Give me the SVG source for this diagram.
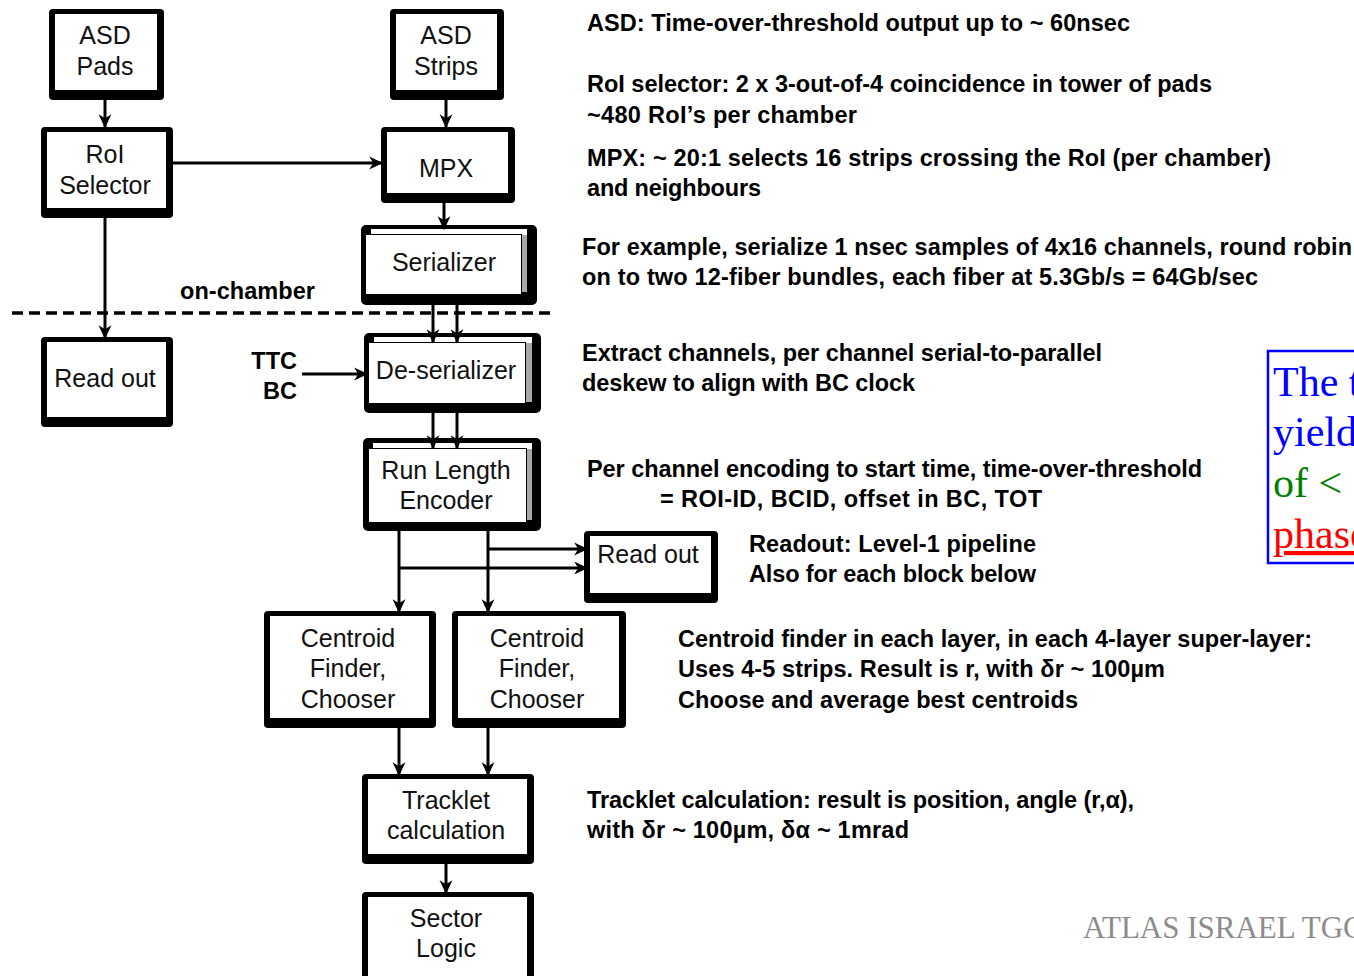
<svg xmlns="http://www.w3.org/2000/svg" width="1354" height="976" viewBox="0 0 1354 976">
  <defs>
    <style>
      .frame { fill: #000; }
      .face { fill: #fff; }
      .page { fill: #fff; stroke: #000; stroke-width: 1; }
      .edge { fill: #a8a8a8; }
      .lbl { font-family: "Liberation Sans", Arial, sans-serif; font-size: 25px; fill: #111; text-anchor: middle; }
      .note { font-family: "Liberation Sans", Arial, sans-serif; font-size: 23.5px; font-weight: bold; fill: #000; }
      .wire { fill: none; stroke: #000; stroke-width: 3; }
      .arrow { marker-end: url(#ah); }
      .serif { font-family: "Liberation Serif", "Times New Roman", serif; font-size: 42px; }
    </style>
    <marker id="ah" viewBox="0 0 12 12" refX="11" refY="6" markerWidth="14" markerHeight="14" markerUnits="userSpaceOnUse" orient="auto">
      <path d="M0,0.5 L12,6 L0,11.5 L3.5,6 z" fill="#000"/>
    </marker>
  </defs>

  <rect width="1354" height="976" fill="#fff"/>

  <!-- single-frame blocks: black frame with heavier bottom/right, white face -->
  <g id="asd-pads">
    <rect class="frame" x="49" y="9" width="115" height="91" rx="4"/>
    <rect class="face" x="55" y="14" width="102" height="76"/>
    <text class="lbl" x="105" y="44">ASD</text>
    <text class="lbl" x="105" y="75">Pads</text>
  </g>
  <g id="asd-strips">
    <rect class="frame" x="390" y="9" width="114" height="91" rx="4"/>
    <rect class="face" x="396" y="14" width="101" height="76"/>
    <text class="lbl" x="446" y="44">ASD</text>
    <text class="lbl" x="446" y="75">Strips</text>
  </g>
  <g id="roi-selector">
    <rect class="frame" x="41" y="127" width="132" height="91" rx="4"/>
    <rect class="face" x="47" y="132" width="119" height="76"/>
    <text class="lbl" x="105" y="163">RoI</text>
    <text class="lbl" x="105" y="194">Selector</text>
  </g>
  <g id="mpx">
    <rect class="frame" x="381" y="127" width="134" height="76" rx="4"/>
    <rect class="face" x="387" y="132" width="121" height="61"/>
    <text class="lbl" x="446" y="177">MPX</text>
  </g>

  <!-- stacked-page blocks -->
  <g id="serializer">
    <rect class="frame" x="361" y="225" width="176" height="80" rx="5"/>
    <rect class="face" x="371" y="229" width="156" height="63"/>
    <rect class="edge" x="522" y="235" width="5" height="57"/>
    <rect class="page" x="365.5" y="234.5" width="156" height="60"/>
    <text class="lbl" x="444" y="271">Serializer</text>
  </g>

  <text class="note" x="180" y="299" textLength="135">on-chamber</text>
  <text class="note" x="297" y="369" text-anchor="end">TTC</text>
  <text class="note" x="297" y="399" text-anchor="end">BC</text>

  <g id="readout-chamber">
    <rect class="frame" x="41" y="337" width="132" height="90" rx="4"/>
    <rect class="face" x="47" y="342" width="119" height="75"/>
    <text class="lbl" x="105" y="387">Read out</text>
  </g>

  <g id="deserializer">
    <rect class="frame" x="364" y="333" width="177" height="80" rx="5"/>
    <rect class="face" x="374" y="337" width="158" height="65"/>
    <rect class="edge" x="526" y="343" width="6" height="59"/>
    <rect class="page" x="368.5" y="342.5" width="157" height="61"/>
    <text class="lbl" x="446" y="379">De-serializer</text>
  </g>

  <g id="run-length-encoder">
    <rect class="frame" x="363" y="438" width="178" height="93" rx="5"/>
    <rect class="face" x="373" y="443" width="159" height="77"/>
    <rect class="edge" x="527" y="449" width="5" height="71"/>
    <rect class="page" x="368.5" y="448.5" width="158" height="74"/>
    <text class="lbl" x="446" y="479">Run Length</text>
    <text class="lbl" x="446" y="509">Encoder</text>
  </g>

  <g id="readout-pipeline">
    <rect class="frame" x="584" y="531" width="134" height="72" rx="4"/>
    <rect class="face" x="590" y="536" width="121" height="57"/>
    <text class="lbl" x="648" y="563">Read out</text>
  </g>

  <g id="centroid-1">
    <rect class="frame" x="264" y="611" width="172" height="117" rx="4"/>
    <rect class="face" x="270" y="616" width="159" height="102"/>
    <text class="lbl" x="348" y="647">Centroid</text>
    <text class="lbl" x="348" y="677">Finder,</text>
    <text class="lbl" x="348" y="708">Chooser</text>
  </g>
  <g id="centroid-2">
    <rect class="frame" x="452" y="611" width="174" height="117" rx="4"/>
    <rect class="face" x="458" y="616" width="161" height="102"/>
    <text class="lbl" x="537" y="647">Centroid</text>
    <text class="lbl" x="537" y="677">Finder,</text>
    <text class="lbl" x="537" y="708">Chooser</text>
  </g>

  <g id="tracklet">
    <rect class="frame" x="362" y="774" width="172" height="90" rx="4"/>
    <rect class="face" x="368" y="779" width="159" height="75"/>
    <text class="lbl" x="446" y="809">Tracklet</text>
    <text class="lbl" x="446" y="839">calculation</text>
  </g>
  <g id="sector-logic">
    <rect class="frame" x="362" y="892" width="172" height="92" rx="4"/>
    <rect class="face" x="368" y="897" width="159" height="90"/>
    <text class="lbl" x="446" y="927">Sector</text>
    <text class="lbl" x="446" y="957">Logic</text>
  </g>

  <!-- on-chamber boundary -->
  <line x1="12" y1="313" x2="552" y2="313" stroke="#000" stroke-width="3.5" stroke-dasharray="11,6"/>

  <g id="connectors">
    <path class="wire arrow" d="M105,100 V127"/>
    <path class="wire arrow" d="M446,100 V127"/>
    <path class="wire arrow" d="M173,163 H382"/>
    <path class="wire arrow" d="M105,218 V338"/>
    <path class="wire arrow" d="M444,203 V229"/>
    <path class="wire arrow" d="M433,305 V342"/>
    <path class="wire arrow" d="M457,305 V342"/>
    <path class="wire arrow" d="M433,413 V448"/>
    <path class="wire arrow" d="M457,413 V448"/>
    <path class="wire arrow" d="M302,374 H367"/>
    <path class="wire arrow" d="M399,531 V612"/>
    <path class="wire arrow" d="M488,531 V612"/>
    <path class="wire arrow" d="M488,549 H587"/>
    <path class="wire arrow" d="M399,568 H587"/>
    <path class="wire arrow" d="M399,728 V775"/>
    <path class="wire arrow" d="M488,728 V775"/>
    <path class="wire arrow" d="M446,864 V893"/>
  </g>

  <!-- block descriptions -->
  <g id="notes">
    <text class="note" x="587" y="31" textLength="543">ASD: Time-over-threshold output up to ~ 60nsec</text>
    <text class="note" x="587" y="92" textLength="625">RoI selector: 2 x 3-out-of-4 coincidence in tower of pads</text>
    <text class="note" x="587" y="123" textLength="270">~480 RoI’s per chamber</text>
    <text class="note" x="587" y="166" textLength="684">MPX: ~ 20:1 selects 16 strips crossing the RoI (per chamber)</text>
    <text class="note" x="587" y="196" textLength="174">and neighbours</text>
    <text class="note" x="582" y="255" textLength="770">For example, serialize 1 nsec samples of 4x16 channels, round robin</text>
    <text class="note" x="582" y="285" textLength="676">on to two 12-fiber bundles, each fiber at 5.3Gb/s = 64Gb/sec</text>
    <text class="note" x="582" y="361" textLength="520">Extract channels, per channel serial-to-parallel</text>
    <text class="note" x="582" y="391" textLength="333">deskew to align with BC clock</text>
    <text class="note" x="587" y="477" textLength="615">Per channel encoding to start time, time-over-threshold</text>
    <text class="note" x="660" y="507" textLength="382">= ROI-ID, BCID, offset in BC, TOT</text>
    <text class="note" x="749" y="552" textLength="287">Readout: Level-1 pipeline</text>
    <text class="note" x="749" y="582" textLength="287">Also for each block below</text>
    <text class="note" x="678" y="647" textLength="634">Centroid finder in each layer, in each 4-layer super-layer:</text>
    <text class="note" x="678" y="677" textLength="487">Uses 4-5 strips. Result is r, with δr ~ 100µm</text>
    <text class="note" x="678" y="708" textLength="400">Choose and average best centroids</text>
    <text class="note" x="587" y="808" textLength="547">Tracklet calculation: result is position, angle (r,α),</text>
    <text class="note" x="587" y="838" textLength="322">with δr ~ 100µm, δα ~ 1mrad</text>
  </g>

  <!-- callout box running off the right edge -->
  <g id="callout">
    <rect x="1268" y="351" width="100" height="212" fill="#fff" stroke="#0000ff" stroke-width="2.5"/>
    <text class="serif" x="1273" y="396" fill="#0000ff">The t</text>
    <text class="serif" x="1273" y="446" fill="#0000ff">yield</text>
    <text class="serif" x="1273" y="497" fill="#008000">of &lt;</text>
    <text class="serif" x="1273" y="548" fill="#ff0000" text-decoration="underline">phase</text>
  </g>

  <text x="1083" y="938" font-family="'Liberation Serif', 'Times New Roman', serif" font-size="31" fill="#8c8c8c">ATLAS ISRAEL TGC</text>
</svg>
